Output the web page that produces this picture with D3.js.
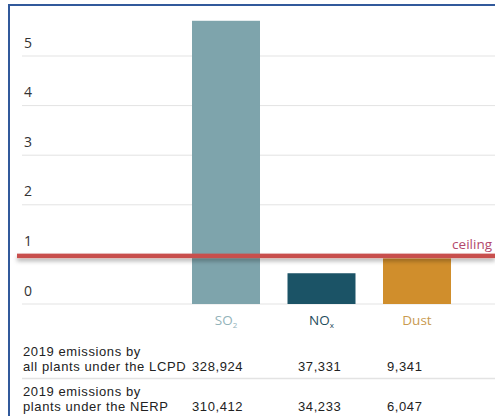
<!DOCTYPE html>
<html>
<head>
<meta charset="utf-8">
<script src="https://cdn.jsdelivr.net/npm/d3@7"></script>
<style>
  html, body { margin: 0; padding: 0; background: #fff; }
  svg { display: block; }
  text { font-family: "Open Sans", "Noto Sans", sans-serif; }
  text.tbl { font-family: "Liberation Sans", Arial, sans-serif; letter-spacing: 0.6px; }
</style>
</head>
<body>
<svg id="chart" width="495" height="416"></svg>
<script>
// ---- data ----
const categories = ["SO2", "NOx", "Dust"];
const categoryMain = ["SO", "NO", "Dust"];
const categorySub = ["2", "x", ""];
const values = [5.71, 0.62, 0.92];
const ceilingValue = 0.97;
const ceilingLabel = "ceiling";
const yTicks = [0, 1, 2, 3, 4, 5];
const rowLabels = [
  ["2019 emissions by", "all plants under the LCPD"],
  ["2019 emissions by", "plants under the NERP"]
];
const rowLCPD = ["328,924", "37,331", "9,341"];
const rowNERP = ["310,412", "34,233", "6,047"];

// ---- layout / style ----
const barColors = ["#7ea4ac", "#1b5366", "#d08e2c"];
const labelColors = ["#93b3ba", "#1f4c5c", "#c99a50"];
const W = 495, H = 416;
const svg = d3.select("#chart");

const y = d3.scaleLinear().domain([0, 5]).range([304, 56]);
const x = d3.scaleBand().domain(categories).range([178.25, 464.75])
  .paddingInner(0.288).paddingOuter(0.144);

// defs: shadow
const defs = svg.append("defs");
const f = defs.append("filter").attr("id", "sh")
  .attr("filterUnits", "userSpaceOnUse")
  .attr("x", 0).attr("y", 230).attr("width", W).attr("height", 60);
f.append("feDropShadow").attr("dx", 0).attr("dy", 3).attr("stdDeviation", 2)
  .attr("flood-color", "#000").attr("flood-opacity", 0.3);

// gridlines
svg.append("g").selectAll("line").data(yTicks).join("line")
  .attr("x1", 22).attr("x2", W)
  .attr("y1", d => y(d)).attr("y2", d => y(d))
  .attr("stroke", "#e3e3e3").attr("stroke-width", 1);

// tick labels
svg.append("g").selectAll("text").data(yTicks).join("text")
  .attr("x", 24).attr("y", d => y(d) - 8.5)
  .attr("font-size", 14).attr("fill", "#333")
  .text(d => d);

// bars
svg.append("g").selectAll("rect").data(values).join("rect")
  .attr("x", (d, i) => x(categories[i]))
  .attr("width", x.bandwidth())
  .attr("y", d => y(d))
  .attr("height", d => y(0) - y(d))
  .attr("fill", (d, i) => barColors[i]);

// ceiling line
svg.append("rect")
  .attr("x", 17).attr("width", W - 17)
  .attr("y", y(ceilingValue) - 2.25).attr("height", 4.5)
  .attr("fill", "#c8504e")
  .attr("filter", "url(#sh)");
svg.append("text")
  .attr("x", 492).attr("y", y(ceilingValue) - 7)
  .attr("text-anchor", "end").attr("font-size", 13.5)
  .attr("fill", "#b3486c").text(ceilingLabel);

// category labels
const cl = svg.append("g").selectAll("text").data(categories).join("text")
  .attr("x", d => x(d) + x.bandwidth() / 2)
  .attr("y", 325)
  .attr("text-anchor", "middle").attr("font-size", 13.5)
  .attr("fill", (d, i) => labelColors[i]);
cl.append("tspan").text((d, i) => categoryMain[i]);
cl.append("tspan").attr("font-size", 8).attr("dy", 3).text((d, i) => categorySub[i]);

// table
const colX = [192, 298, 387];
const rowBase = [371, 411];
const rows = [rowLCPD, rowNERP];
rowLabels.forEach((lines, r) => {
  lines.forEach((t, k) => {
    svg.append("text").attr("class", "tbl").attr("x", 23)
      .attr("y", rowBase[r] - 15 * (lines.length - 1 - k))
      .attr("font-size", 13).attr("fill", "#222").text(t);
  });
  rows[r].forEach((v, i) => {
    svg.append("text").attr("class", "tbl").attr("x", colX[i]).attr("y", rowBase[r])
      .attr("font-size", 13).attr("fill", "#222").text(v);
  });
});
svg.append("line").attr("x1", 22).attr("x2", W).attr("y1", 378.5).attr("y2", 378.5)
  .attr("stroke", "#e3e3e3").attr("stroke-width", 1.5);

// frame
svg.append("path")
  .attr("d", `M9,${H + 5} L9,5 L${W + 5},5`)
  .attr("fill", "none").attr("stroke", "#31599b").attr("stroke-width", 2);
</script>
</body>
</html>
